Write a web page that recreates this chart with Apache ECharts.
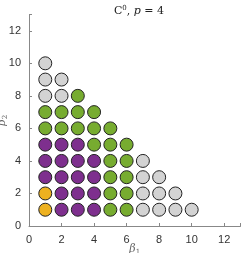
<!DOCTYPE html>
<html><head><meta charset="utf-8">
<script src="https://cdn.jsdelivr.net/npm/echarts@6/dist/echarts.min.js"></script>
<style>html,body{margin:0;padding:0;background:#fff}#c{width:241px;height:253px}</style>
</head><body><div id="c"></div>
<script>
const orangePts = [[1,1],[1,2]];
const purplePts = [[2,1],[3,1],[4,1],[2,2],[3,2],[4,2],[1,3],[2,3],[3,3],[4,3],[1,4],[2,4],[3,4],[4,4],[1,5],[2,5],[3,5]];
const greenPts = [[5,1],[6,1],[5,2],[6,2],[5,3],[6,3],[5,4],[6,4],[4,5],[5,5],[6,5],[1,6],[2,6],[3,6],[4,6],[5,6],[1,7],[2,7],[3,7],[4,7],[3,8]];
const grayPts = [[7,1],[8,1],[9,1],[10,1],[7,2],[8,2],[9,2],[7,3],[8,3],[7,4],[1,8],[2,8],[1,9],[2,9],[1,10]];
const ticks = [0,2,4,6,8,10,12];

const chart = echarts.init(document.getElementById('c'));
const serif = '"DejaVu Serif","Liberation Serif",serif';
function sc(data, color){
  return {type:'scatter', data:data, symbolSize:13,
    itemStyle:{color:color, borderColor:'#222', borderWidth:1, opacity:1}};
}
const axisCommon = {
  min:0, max:13, interval:2,
  nameMoveOverlap:false,
  axisLine:{show:true, lineStyle:{color:'#888', width:1}},
  axisTick:{show:true, inside:true, length:3, lineStyle:{color:'#888'}},
  splitLine:{show:false},
  axisLabel:{color:'#333', fontSize:11, fontFamily:'"Liberation Sans",Arial,sans-serif',
    formatter:function(v){return ticks.indexOf(v)>=0? String(v):'';}}
};
const nameRich = {rich:{b:{fontFamily:serif,fontStyle:'italic',fontSize:11,color:'#666'}, s:{fontFamily:serif,fontSize:7,color:'#666',padding:[6,0,0,0]}}};
chart.setOption({
  animation:false,
  title:{text:'{a|C}{s|0}{a|, }{i|p}{a| = 4}', left:134, top:0, textAlign:'center',
    textStyle:{fontWeight:'normal', rich:{
      a:{fontFamily:serif, fontSize:11, color:'#222', fontWeight:'normal'},
      i:{fontFamily:serif, fontSize:11, fontStyle:'italic', color:'#222', fontWeight:'normal'},
      s:{fontFamily:serif, fontSize:7, color:'#222', fontWeight:'normal', verticalAlign:'top', padding:[0,0,6,0]}
    }}},
  grid:{left:29, right:0.5, top:14.5, bottom:27, containLabel:false, outerBoundsMode:'none'},
  xAxis:Object.assign({}, axisCommon, {type:'value', name:'{b|β}{s|1}', nameLocation:'middle', nameGap:17, nameTextStyle:nameRich}),
  yAxis:Object.assign({}, axisCommon, {type:'value', name:'{b|β}{s|2}', nameLocation:'middle', nameGap:20, nameTextStyle:nameRich}),
  series:[sc(grayPts,'#D3D3D3'), sc(greenPts,'#77AC30'), sc(purplePts,'#7E2F8E'), sc(orangePts,'#EDB120')]
});
</script></body></html>
